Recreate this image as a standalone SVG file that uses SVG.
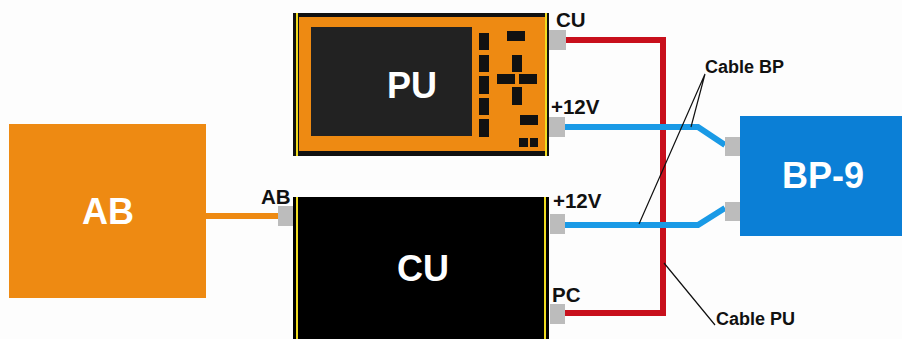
<svg xmlns="http://www.w3.org/2000/svg" width="902" height="339" viewBox="0 0 902 339">
<style>
text{font-family:"Liberation Sans",Arial,sans-serif;font-weight:bold}
.big{fill:#fff;font-size:36px;text-anchor:middle}
.lbl{fill:#111;font-size:20.5px}
.cap{fill:#111;font-size:18px}
.port{fill:#bcbcbc}
.stripe{fill:#f0dc20}
.btn{fill:#111}
.cable{fill:none;stroke-width:6}
.lead{fill:none;stroke:#111;stroke-width:1.2}
</style>
<rect width="902" height="339" fill="#fdfdfd"/>
<g id="connectors">
<path class="cable" stroke="#ee8a12" d="M206 216H279"/>
<path class="cable" stroke="#c8101c" stroke-linejoin="miter" d="M565 40H663V313H564"/>
<path class="cable" stroke="#1a9ae6" d="M565 127H698L725 145"/>
<path class="cable" stroke="#1a9ae6" d="M565 225H698L725 208"/>
<path class="lead" d="M705 74L639 224M705 74L691 127M664 263L715 325"/>
</g>
<g id="node-ab">
<rect x="9" y="124" width="197" height="174" fill="#ee8a12"/>
<text class="big" x="108" y="224">AB</text>
</g>
<g id="node-pu">
<rect x="293" y="13" width="256" height="143" fill="#111"/>
<rect x="299" y="17" width="246" height="134" fill="#ee8a12"/>
<rect class="stripe" x="296" y="13" width="2" height="143"/>
<rect class="stripe" x="545" y="13" width="2" height="143"/>
<rect x="311" y="27" width="161" height="109" fill="#222"/>
<rect class="btn" x="479" y="33" width="10" height="17"/>
<rect class="btn" x="479" y="55" width="10" height="17"/>
<rect class="btn" x="479" y="76" width="10" height="18"/>
<rect class="btn" x="479" y="98" width="10" height="17"/>
<rect class="btn" x="479" y="119" width="10" height="18"/>
<rect class="btn" x="507" y="31" width="18" height="10"/>
<rect class="btn" x="512" y="55" width="10" height="17"/>
<rect class="btn" x="497" y="74" width="18" height="10"/>
<rect class="btn" x="519" y="74" width="18" height="10"/>
<rect class="btn" x="512" y="87" width="10" height="18"/>
<rect class="btn" x="520" y="115" width="18" height="10"/>
<rect class="btn" x="519" y="138" width="9" height="9"/>
<rect class="btn" x="530" y="138" width="8" height="9"/>
<text class="big" x="412" y="98">PU</text>
<rect class="port" x="549" y="30" width="17" height="20"/>
<rect class="port" x="549" y="117" width="16" height="20"/>
<text class="lbl" x="556" y="27">CU</text>
<text class="lbl" x="551" y="114">+12V</text>
</g>
<g id="node-cu">
<rect x="293" y="197" width="256" height="142" fill="#000"/>
<rect class="stripe" x="296" y="197" width="2" height="142"/>
<rect class="stripe" x="544" y="197" width="2" height="142"/>
<text class="big" x="423" y="281">CU</text>
<rect class="port" x="278" y="206" width="15" height="20"/>
<rect class="port" x="550" y="214" width="15" height="20"/>
<rect class="port" x="550" y="304" width="15" height="20"/>
<text class="lbl" x="261" y="204">AB</text>
<text class="lbl" x="553" y="208">+12V</text>
<text class="lbl" x="552" y="302">PC</text>
</g>
<g id="node-bp9">
<rect x="740" y="116" width="162" height="120" fill="#0b7fd6"/>
<rect class="port" x="725" y="137" width="15" height="19"/>
<rect class="port" x="725" y="202" width="15" height="19"/>
<text class="big" x="823" y="188">BP-9</text>
</g>
<g id="cable-labels">
<text class="cap" x="705" y="73">Cable BP</text>
<text class="cap" x="716" y="325">Cable PU</text>
</g>
</svg>
